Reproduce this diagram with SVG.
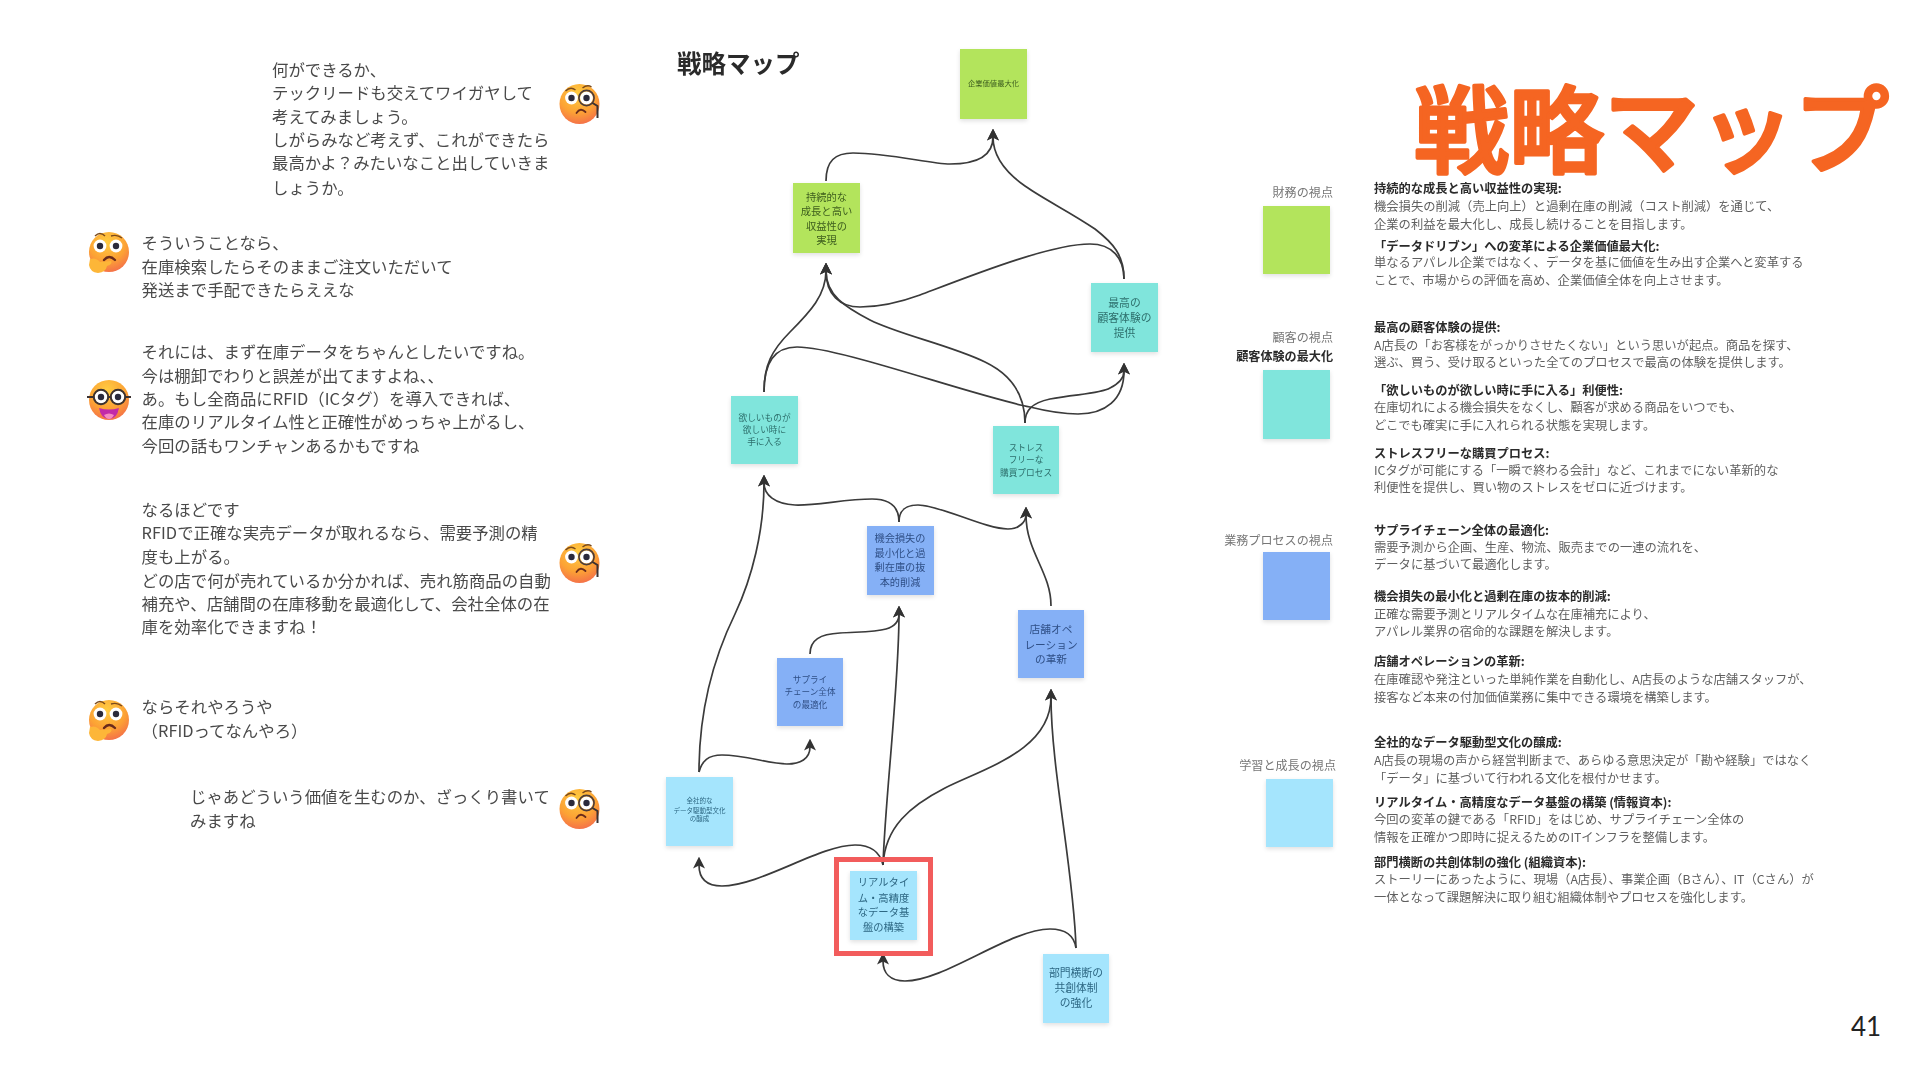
<svg xmlns="http://www.w3.org/2000/svg" width="1920" height="1080" viewBox="0 0 1920 1080">
<style>
text{font-family:"Noto Sans CJK JP","Noto Sans",sans-serif;dominant-baseline:central}
.chat{font-size:16.4px;fill:#4a4a4a}
.body{font-size:12.3px;fill:#5f5f5f}
.head{font-size:12.25px;fill:#2a2a2a;font-weight:700}
.lab{font-size:12.1px;fill:#777;text-anchor:end}
.labb{font-size:12.1px;fill:#2a2a2a;font-weight:700;text-anchor:end}
.n{text-anchor:middle}
.tg{fill:#3d5e1e}.tt{fill:#2d6f6c}.tb{fill:#2f4f86}.tl{fill:#2d6783}
.sg{fill:#b3e45c}.st{fill:#80e5dc}.sb{fill:#85b0f6}.sl{fill:#a5e5fd}
.soft{filter:url(#soft)}
.sticky{filter:url(#shadow)}
.c{fill:none;stroke:#3a3a3a;stroke-width:1.7;marker-end:url(#head)}
</style>
<defs>
<filter id="soft" x="-5%" y="-5%" width="110%" height="110%"><feGaussianBlur stdDeviation="0.35"/></filter>
<filter id="shadow" x="-20%" y="-20%" width="140%" height="140%"><feDropShadow dx="0" dy="2" stdDeviation="2" flood-color="#000" flood-opacity="0.12"/></filter>
<marker id="head" markerUnits="userSpaceOnUse" markerWidth="12" markerHeight="12" viewBox="0 0 10 10" refX="3" refY="5" orient="auto"><path d="M10,5 L0,0 L2.5,5 L0,10 Z" fill="#333"/></marker>
<radialGradient id="face" cx="45%" cy="25%" r="85%"><stop offset="0" stop-color="#ffcc40"/><stop offset="0.55" stop-color="#fca235"/><stop offset="1" stop-color="#f2624e"/></radialGradient>
<g id="eye"><circle r="6.4" fill="#fff"/><circle r="3.2" fill="#2b2b3a"/></g>
<g id="monocle" class="soft">
<circle r="20" fill="url(#face)"/>
<use href="#eye" x="-8" y="-6"/><use href="#eye" x="7" y="-6"/>
<circle cx="7" cy="-6" r="7.6" fill="none" stroke="#4a3a3a" stroke-width="1.6"/>
<path d="M13,-1 L18,2 V14" fill="none" stroke="#3a3030" stroke-width="2"/>
<path d="M-3,9 Q1,3 6,8" fill="none" stroke="#6a2c1c" stroke-width="1.8" stroke-linecap="round"/>
<path d="M-14,-13 Q-9,-18 -4,-14" fill="none" stroke="#7a4a1c" stroke-width="1.4"/>
<path d="M3,-16 Q8,-20 12,-17" fill="none" stroke="#7a4a1c" stroke-width="1.4"/>
</g>
<g id="think" class="soft">
<circle r="20" fill="url(#face)"/>
<use href="#eye" x="-9" y="-6"/><use href="#eye" x="7" y="-6"/>
<path d="M-5,8 Q0,2 6,8" fill="none" stroke="#6a2c1c" stroke-width="2.4" stroke-linecap="round"/>
<path d="M-14,-16 Q-9,-21 -4,-16" fill="none" stroke="#7a4a1c" stroke-width="1.4"/>
<path d="M2,-16 Q8,-18 13,-14" fill="none" stroke="#7a4a1c" stroke-width="1.4"/>
<path d="M-19,7 Q-13,5 -9,10 L2,9 Q4,12 -2,14 Q-3,20 -11,21 Q-19,20 -20,13 Z" fill="#fdb638"/>
</g>
<g id="nerd" class="soft">
<circle r="20" fill="url(#face)"/>
<use href="#eye" x="-8" y="-3"/><use href="#eye" x="9" y="-3"/>
<g fill="none" stroke="#3a3030" stroke-width="2"><circle cx="-8" cy="-3" r="7.2"/><circle cx="9" cy="-3" r="7.2"/><path d="M-15,-3 H-22 M16,-3 H22 M-1,-3 H2"/></g>
<path d="M-10,8 Q0,11 10,8 Q8,19 0,19 Q-8,19 -10,8 Z" fill="#c22aa8"/>
<path d="M-5,15 Q0,12 5,15 Q3,19 0,19 Q-3,19 -5,15 Z" fill="#f58ac0"/>
</g>
</defs>
<rect width="1920" height="1080" fill="#fff"/>

<g id="chat-1"><use href="#monocle" x="579.5" y="104"/><g class="chat soft">
<text class="chat" x="272" y="69">何ができるか、</text>
<text class="chat" x="272" y="91.5">テックリードも交えてワイガヤして</text>
<text class="chat" x="272" y="115.5">考えてみましょう。</text>
<text class="chat" x="272" y="139">しがらみなど考えず、これができたら</text>
<text class="chat" x="272" y="162">最高かよ？みたいなこと出していきま</text>
<text class="chat" x="272" y="187">しょうか。</text></g></g>
<g id="chat-2"><use href="#think" x="109" y="252"/><g class="chat soft">
<text class="chat" x="141.6" y="241.8">そういうことなら、</text>
<text class="chat" x="141.6" y="265.8">在庫検索したらそのままご注文いただいて</text>
<text class="chat" x="141.6" y="288.8">発送まで手配できたらええな</text></g></g>
<g id="chat-3"><use href="#nerd" x="109" y="400"/><g class="chat soft">
<text class="chat" x="141.6" y="351">それには、まず在庫データをちゃんとしたいですね。</text>
<text class="chat" x="141.6" y="375">今は棚卸でわりと誤差が出てますよね、、</text>
<text class="chat" x="141.6" y="398">あ。もし全商品にRFID（ICタグ）を導入できれば、</text>
<text class="chat" x="141.6" y="421">在庫のリアルタイム性と正確性がめっちゃ上がるし、</text>
<text class="chat" x="141.6" y="445">今回の話もワンチャンあるかもですね</text></g></g>
<g id="chat-4"><use href="#monocle" x="579.5" y="563"/><g class="chat soft">
<text class="chat" x="141.6" y="508.5">なるほどです</text>
<text class="chat" x="141.6" y="531.5">RFIDで正確な実売データが取れるなら、需要予測の精</text>
<text class="chat" x="141.6" y="555.5">度も上がる。</text>
<text class="chat" x="141.6" y="579.5">どの店で何が売れているか分かれば、売れ筋商品の自動</text>
<text class="chat" x="141.6" y="602.5">補充や、店舗間の在庫移動を最適化して、会社全体の在</text>
<text class="chat" x="141.6" y="625.5">庫を効率化できますね！</text></g></g>
<g id="chat-5"><use href="#think" x="109" y="720"/><g class="chat soft">
<text class="chat" x="141.6" y="706.2">ならそれやろうや</text>
<text class="chat" x="141.6" y="729.5">（RFIDってなんやろ）</text></g></g>
<g id="chat-6"><use href="#monocle" x="579.5" y="809"/><g class="chat soft">
<text class="chat" x="190" y="795.5">じゃあどういう価値を生むのか、ざっくり書いて</text>
<text class="chat" x="190" y="819.5">みますね</text></g></g>

<text id="map-title" class="soft" x="677" y="62" font-size="24.5" font-weight="700" fill="#2a2a2a">戦略マップ</text>

<g id="connectors" class="soft">
<path class="c" d="M826,181 C826,161 835,153 853,153 C890,153 930,164 950,164 C978,164 993,155 993,137"/>
<path class="c" d="M1124,279 C1124,255 1113,243 1095,229 C1070,212 1045,200 1025,186 C1005,172 993,155 993,137"/>
<path class="c" d="M1124,279 C1124,258 1112,244 1090,244 C1050,244 970,276 920,295 C890,306 870,307 860,307 C840,307 826,295 826,271"/>
<path class="c" d="M764,392 C764,365 772,350 790,332 C810,312 826,295 826,271"/>
<path class="c" d="M764,392 C764,362 775,347 797,347 C840,347 970,395 1030,407 C1050,412 1065,414 1078,414 C1105,414 1124,400 1124,371"/>
<path class="c" d="M1025,423 C1025,395 1012,375 985,362 C950,345 900,335 870,320 C845,307 826,295 826,271"/>
<path class="c" d="M1025,423 C1025,410 1032,403 1050,399 C1075,394 1100,394 1110,388 C1120,383 1124,378 1124,371"/>
<path class="c" d="M899,522 C899,508 892,499 872,499 C845,499 815,506 795,505 C775,504 764,495 764,483"/>
<path class="c" d="M899,522 C899,510 905,505 918,505 C940,505 985,529 1008,529 C1020,529 1026,521 1026,515"/>
<path class="c" d="M1051,606 C1051,572 1026,552 1026,515"/>
<path class="c" d="M699,772 C699,707 715,655 735,614 C752,578 764,531 764,483"/>
<path class="c" d="M699,772 C702,761 708,755 722,755 C745,755 770,764 787,764 C800,764 810,759 810,747"/>
<path class="c" d="M810,654 C810,640 820,634 840,633 C870,631 899,634 899,614"/>
<path class="c" d="M883,865 C885,800 899,686 899,614"/>
<path class="c" d="M883,865 C885,827 910,806 945,788 C985,768 1051,750 1051,697"/>
<path class="c" d="M883,865 C880,852 870,845 855,845 C820,845 760,886 722,886 C706,886 699,878 699,865"/>
<path class="c" d="M1076,948 C1074,872 1051,769 1051,697"/>
<path class="c" d="M1076,948 C1074,935 1065,929 1050,929 C1010,929 945,981 905,981 C890,981 883,973 883,961"/>
</g>

<g id="node-enterprise-value"><rect class="sg sticky" x="960" y="49" width="67" height="70"/><g class="soft"><text class="n tg" x="993.5" y="83" font-size="7.3">企業価値最大化</text></g></g>
<g id="node-growth"><rect class="sg sticky" x="793" y="183" width="67" height="70"/><g class="soft" font-size="10.3"><text class="n tg" x="826.5" y="196">持続的な</text><text class="n tg" x="826.5" y="210">成長と高い</text><text class="n tg" x="826.5" y="225">収益性の</text><text class="n tg" x="826.5" y="239">実現</text></g></g>
<g id="node-best-cx"><rect class="st sticky" x="1091" y="283" width="67" height="69"/><g class="soft" font-size="10.8"><text class="n tt" x="1124.5" y="302">最高の</text><text class="n tt" x="1124.5" y="317">顧客体験の</text><text class="n tt" x="1124.5" y="332">提供</text></g></g>
<g id="node-want"><rect class="st sticky" x="731" y="396" width="67" height="68"/><g class="soft" font-size="8.7"><text class="n tt" x="764.5" y="417">欲しいものが</text><text class="n tt" x="764.5" y="429">欲しい時に</text><text class="n tt" x="764.5" y="441">手に入る</text></g></g>
<g id="node-stressfree"><rect class="st sticky" x="993" y="426" width="66" height="68"/><g class="soft" font-size="8.7"><text class="n tt" x="1026" y="447">ストレス</text><text class="n tt" x="1026" y="459">フリーな</text><text class="n tt" x="1026" y="472">購買プロセス</text></g></g>
<g id="node-loss"><rect class="sb sticky" x="867" y="526" width="67" height="69"/><g class="soft" font-size="10.2"><text class="n tb" x="900" y="537">機会損失の</text><text class="n tb" x="900" y="552">最小化と過</text><text class="n tb" x="900" y="566.5">剰在庫の抜</text><text class="n tb" x="900" y="581">本的削減</text></g></g>
<g id="node-store-ops"><rect class="sb sticky" x="1018" y="610" width="66" height="68"/><g class="soft" font-size="10.7"><text class="n tb" x="1051" y="628.5">店舗オペ</text><text class="n tb" x="1051" y="644">レーション</text><text class="n tb" x="1051" y="658.5">の革新</text></g></g>
<g id="node-supply"><rect class="sb sticky" x="777" y="658" width="66" height="68"/><g class="soft" font-size="8.6"><text class="n tb" x="810" y="678.5">サプライ</text><text class="n tb" x="810" y="691.4">チェーン全体</text><text class="n tb" x="810" y="704">の最適化</text></g></g>
<g id="node-culture"><rect class="sl sticky" x="666" y="777" width="67" height="69"/><g class="soft" font-size="6.5"><text class="n tl" x="699.5" y="800">全社的な</text><text class="n tl" x="699.5" y="809.7">データ駆動型文化</text><text class="n tl" x="699.5" y="818.3">の醸成</text></g></g>
<g id="node-data-base"><rect class="sl sticky" x="850" y="871" width="67" height="69"/><g class="soft" font-size="10.3"><text class="n tl" x="883.5" y="881.7">リアルタイ</text><text class="n tl" x="883.5" y="897">ム・高精度</text><text class="n tl" x="883.5" y="911">なデータ基</text><text class="n tl" x="883.5" y="926">盤の構築</text></g><rect x="836.5" y="859.5" width="94" height="94" fill="none" stroke="#f25c5c" stroke-width="5"/></g>
<g id="node-cross"><rect class="sl sticky" x="1043" y="954" width="66" height="69"/><g class="soft" font-size="10.8"><text class="n tl" x="1076" y="971.7">部門横断の</text><text class="n tl" x="1076" y="987">共創体制</text><text class="n tl" x="1076" y="1002.4">の強化</text></g></g>

<g id="legend-finance"><rect class="sg sticky" x="1263" y="206" width="67" height="68"/><g class="soft"><text class="lab" x="1333" y="191.8">財務の視点</text></g></g>
<g id="legend-customer"><rect class="st sticky" x="1263" y="370" width="67" height="69"/><g class="soft"><text class="lab" x="1333" y="336.8">顧客の視点</text><text class="labb" x="1333" y="355.8">顧客体験の最大化</text></g></g>
<g id="legend-process"><rect class="sb sticky" x="1263" y="552" width="67" height="68"/><g class="soft"><text class="lab" x="1333" y="539.8">業務プロセスの視点</text></g></g>
<g id="legend-learning"><rect class="sl sticky" x="1266" y="779" width="67" height="68"/><g class="soft"><text class="lab" x="1336" y="764">学習と成長の視点</text></g></g>

<g id="descriptions" class="soft">
<text class="head" x="1374" y="187.8">持続的な成長と高い収益性の実現:</text>
<text class="body" x="1374" y="206">機会損失の削減（売上向上）と過剰在庫の削減（コスト削減）を通じて、</text>
<text class="body" x="1374" y="224">企業の利益を最大化し、成長し続けることを目指します。</text>
<text class="head" x="1374" y="245.5">「データドリブン」への変革による企業価値最大化:</text>
<text class="body" x="1374" y="262.2">単なるアパレル企業ではなく、データを基に価値を生み出す企業へと変革する</text>
<text class="body" x="1374" y="280">ことで、市場からの評価を高め、企業価値全体を向上させます。</text>
<text class="head" x="1374" y="326.5">最高の顧客体験の提供:</text>
<text class="body" x="1374" y="344.5">A店長の「お客様をがっかりさせたくない」という思いが起点。商品を探す、</text>
<text class="body" x="1374" y="362">選ぶ、買う、受け取るといった全てのプロセスで最高の体験を提供します。</text>
<text class="head" x="1374" y="389.5">「欲しいものが欲しい時に手に入る」利便性:</text>
<text class="body" x="1374" y="407">在庫切れによる機会損失をなくし、顧客が求める商品をいつでも、</text>
<text class="body" x="1374" y="424.5">どこでも確実に手に入れられる状態を実現します。</text>
<text class="head" x="1374" y="453">ストレスフリーな購買プロセス:</text>
<text class="body" x="1374" y="469.5">ICタグが可能にする「一瞬で終わる会計」など、これまでにない革新的な</text>
<text class="body" x="1374" y="487">利便性を提供し、買い物のストレスをゼロに近づけます。</text>
<text class="head" x="1374" y="529.5">サプライチェーン全体の最適化:</text>
<text class="body" x="1374" y="547.2">需要予測から企画、生産、物流、販売までの一連の流れを、</text>
<text class="body" x="1374" y="564">データに基づいて最適化します。</text>
<text class="head" x="1374" y="595.5">機会損失の最小化と過剰在庫の抜本的削減:</text>
<text class="body" x="1374" y="613.5">正確な需要予測とリアルタイムな在庫補充により、</text>
<text class="body" x="1374" y="631.2">アパレル業界の宿命的な課題を解決します。</text>
<text class="head" x="1374" y="661.2">店舗オペレーションの革新:</text>
<text class="body" x="1374" y="679">在庫確認や発注といった単純作業を自動化し、A店長のような店舗スタッフが、</text>
<text class="body" x="1374" y="697.2">接客など本来の付加価値業務に集中できる環境を構築します。</text>
<text class="head" x="1374" y="742">全社的なデータ駆動型文化の醸成:</text>
<text class="body" x="1374" y="759.5">A店長の現場の声から経営判断まで、あらゆる意思決定が「勘や経験」ではなく</text>
<text class="body" x="1374" y="777.5">「データ」に基づいて行われる文化を根付かせます。</text>
<text class="head" x="1374" y="802.2">リアルタイム・高精度なデータ基盤の構築 (情報資本):</text>
<text class="body" x="1374" y="818.7">今回の変革の鍵である「RFID」をはじめ、サプライチェーン全体の</text>
<text class="body" x="1374" y="836.5">情報を正確かつ即時に捉えるためのITインフラを整備します。</text>
<text class="head" x="1374" y="861.5">部門横断の共創体制の強化 (組織資本):</text>
<text class="body" x="1374" y="879">ストーリーにあったように、現場（A店長）、事業企画（Bさん）、IT（Cさん）が</text>
<text class="body" x="1374" y="896.5">一体となって課題解決に取り組む組織体制やプロセスを強化します。</text>
</g>

<text id="big-title" x="1414" y="124" font-size="95" font-weight="500" fill="#f56522" stroke="#f56522" stroke-width="3.5" stroke-linejoin="round">戦略マップ</text>
<text id="page-number" x="1866" y="1026" font-size="26" fill="#222" text-anchor="middle" style="font-family:'Lato',sans-serif">41</text>
</svg>
